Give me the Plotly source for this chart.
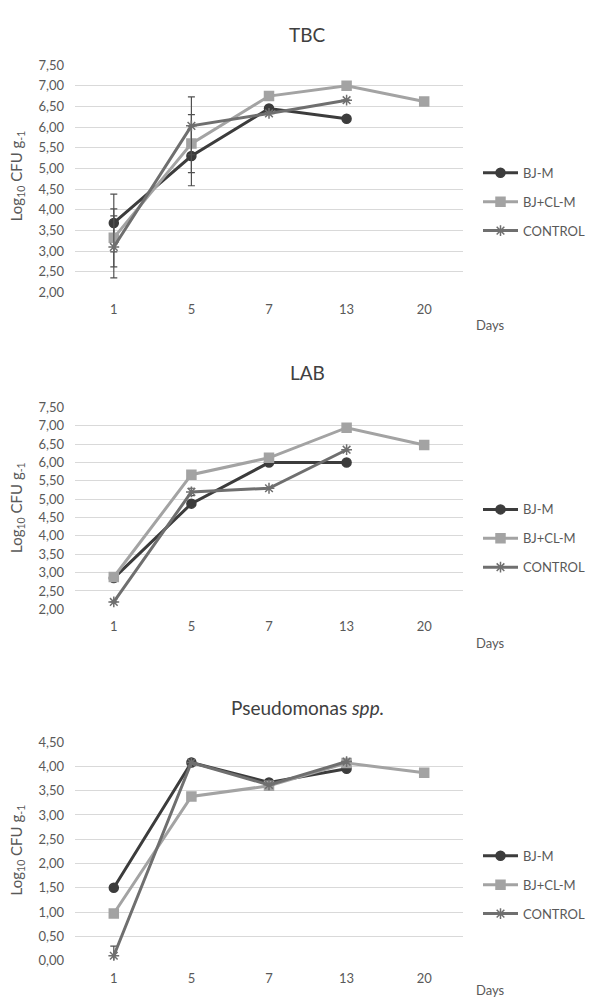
import plotly.graph_objects as go

W, H = 590, 1006

days = ["1", "5", "7", "13", "20"]
series_names = ["BJ-M", "BJ+CL-M", "CONTROL"]

# TBC
tbc_bjm = [3.68, 5.30, 6.45, 6.20, None]
tbc_bjcl = [3.32, 5.60, 6.75, 7.00, 6.62]
tbc_ctrl = [3.10, 6.03, 6.33, 6.65, None]
tbc_bjm_err = [0.70, 0.72, 0, 0, 0]
tbc_bjcl_err = [0.70, 0.70, 0, 0, 0]
tbc_ctrl_err = [0.75, 0.70, 0, 0, 0]

# LAB
lab_bjm = [2.85, 4.88, 6.00, 6.00, None]
lab_bjcl = [2.88, 5.67, 6.13, 6.95, 6.48]
lab_ctrl = [2.20, 5.20, 5.30, 6.35, None]
lab_bjm_err = [0, 0, 0, 0, 0]
lab_bjcl_err = [0, 0, 0, 0, 0]
lab_ctrl_err = [0, 0.10, 0, 0, 0]

# Pseudomonas spp.
ps_bjm = [1.50, 4.08, 3.67, 3.95, None]
ps_bjcl = [0.97, 3.38, 3.60, 4.07, 3.87]
ps_ctrl = [0.10, 4.08, 3.62, 4.10, None]
ps_bjm_err = [0, 0, 0, 0, 0]
ps_bjcl_err = [0, 0.08, 0, 0, 0]
ps_ctrl_err = [0.20, 0, 0, 0, 0]

tbc_ticks = [2.0, 2.5, 3.0, 3.5, 4.0, 4.5, 5.0, 5.5, 6.0, 6.5, 7.0, 7.5]
ps_ticks = [0.0, 0.5, 1.0, 1.5, 2.0, 2.5, 3.0, 3.5, 4.0, 4.5]

FONT = "Lato"
TXT = "#595959"
colors = ["#3c3c3c", "#a3a3a3", "#6f6f6f"]
symbols = ["circle", "square", "asterisk-open"]
msizes = [9, 9, 9]


def py(px):
    return 1 - px / H


def px_(x):
    return x / W


panels = [
    dict(title="TBC", data=[tbc_bjm, tbc_bjcl, tbc_ctrl],
         err=[tbc_bjm_err, tbc_bjcl_err, tbc_ctrl_err],
         ticks=tbc_ticks, rng=[2.0, 7.5], top=58, bot=289, title_y=27, days_y=322,
         leg_y=197, lab_y=171),
    dict(title="LAB", data=[lab_bjm, lab_bjcl, lab_ctrl],
         err=[lab_bjm_err, lab_bjcl_err, lab_ctrl_err],
         ticks=tbc_ticks, rng=[2.0, 7.5], top=406, bot=611, title_y=370, days_y=645,
         leg_y=539, lab_y=508),
    dict(title="Pseudomonas <i>spp.</i>", data=[ps_bjm, ps_bjcl, ps_ctrl],
         err=[ps_bjm_err, ps_bjcl_err, ps_ctrl_err],
         ticks=ps_ticks, rng=[0.0, 4.5], top=746, bot=968, title_y=711, days_y=998,
         leg_y=891, lab_y=856),
]

fig = go.Figure()
annotations = []
layout = dict(
    width=W, height=H,
    margin=dict(l=0, r=0, t=0, b=0),
    paper_bgcolor="white", plot_bgcolor="white",
    font=dict(family=FONT, color=TXT, size=13),
    showlegend=True,
)

PL, PR = 75, 463

for i, p in enumerate(panels):
    k = i + 1
    xa = "x" if k == 1 else f"x{k}"
    ya = "y" if k == 1 else f"y{k}"
    lg = "legend" if k == 1 else f"legend{k}"
    for j in range(3):
        err = p["err"][j]
        fig.add_trace(go.Scatter(
            x=days, y=p["data"][j], name=series_names[j],
            mode="lines+markers",
            line=dict(color=colors[j], width=3),
            marker=dict(symbol=symbols[j], size=msizes[j], color=colors[j],
                        line=dict(color=colors[j], width=1.5)),
            error_y=dict(type="data", array=err, visible=any(e > 0 for e in err),
                         color="#505050", thickness=1.2, width=3.5),
            xaxis=xa, yaxis=ya, legend=lg, legendgroup=f"g{k}{j}",
            connectgaps=False,
        ))
    layout["xaxis" if k == 1 else f"xaxis{k}"] = dict(
        domain=[px_(PL), px_(PR)], anchor=ya, type="category",
        categoryorder="array", categoryarray=days,
        range=[-0.5, 4.5], showgrid=False, zeroline=False, showline=False,
        ticks="", tickfont=dict(size=13, color=TXT, family=FONT),
        ticklabelstandoff=8,
    )
    layout["yaxis" if k == 1 else f"yaxis{k}"] = dict(
        domain=[py(p["bot"]), py(p["top"])], anchor=xa,
        range=p["rng"], tickvals=p["ticks"],
        ticktext=[f"{v:.2f}".replace(".", ",") for v in p["ticks"]],
        showgrid=True, gridcolor="#d9d9d9", gridwidth=1,
        zeroline=False, showline=False, ticks="",
        tickfont=dict(size=13, color=TXT, family=FONT),
        ticklabelstandoff=10,
    )
    layout[lg] = dict(
        x=1.0, xanchor="right", y=py(p["leg_y"]), yanchor="middle",
        bgcolor="rgba(0,0,0,0)", font=dict(size=13, color=TXT, family=FONT),
        tracegroupgap=9, itemwidth=35,
    )
    annotations.append(dict(
        text=p["title"], x=px_(307), y=py(p["title_y"]), xref="paper", yref="paper",
        xanchor="center", yanchor="middle", showarrow=False,
        font=dict(size=19, color="#404040", family=FONT)))
    annotations.append(dict(
        text="Log<sub>10</sub> CFU g<sub>-1</sub>", x=px_(17), y=py(p["lab_y"]),
        xref="paper", yref="paper", xanchor="center", yanchor="middle",
        textangle=-90, showarrow=False,
        font=dict(size=15, color=TXT, family=FONT)))
    annotations.append(dict(
        text="Days", x=px_(474), y=py(p["days_y"]), xref="paper", yref="paper",
        xanchor="left", yanchor="middle", showarrow=False,
        font=dict(size=13, color=TXT, family=FONT)))

layout["annotations"] = annotations
fig.update_layout(**layout)
fig.write_html("out.html")
